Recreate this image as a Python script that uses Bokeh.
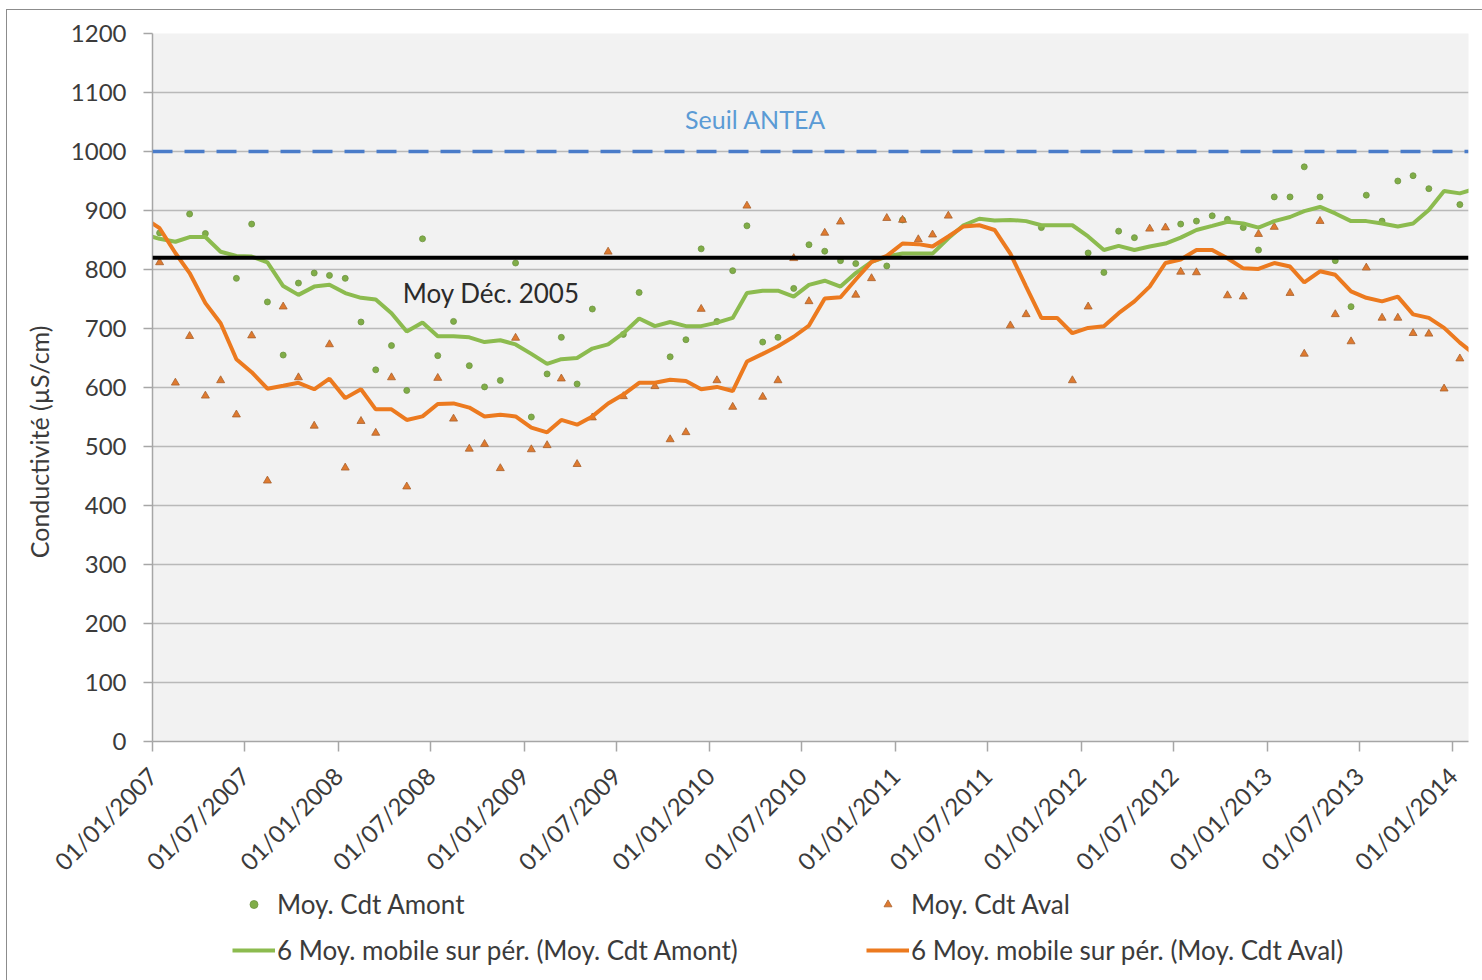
import numpy as np
import pandas as pd
from math import pi
from bokeh.plotting import figure
from bokeh.layouts import column
from bokeh.models import (ColumnDataSource, FixedTicker, DatetimeTickFormatter, Span,
                          Label, Legend, LegendItem, Range1d)
from bokeh.embed import file_html
from bokeh.resources import INLINE

# ---------------- data ----------------
# monthly points (mid-month), Jan 2007 .. Jan 2014
dot_months = pd.date_range("2007-01-01", "2014-01-01", freq="MS") + pd.Timedelta(days=14)
# moving-average lines, Dec 2006 .. Feb 2014 (clipped by the axis)
line_months = pd.date_range("2006-12-01", "2014-02-01", freq="MS") + pd.Timedelta(days=14)

amont = [862, None, 894, 861, None, 785, 877, 745, 655, 777, 794, 790,
         785, 711, 630, 671, 595, 852, 654, 712, 637, 601, 612, 811,
         550, 623, 685, 606, 733, None, 690, 761, None, 652, 681, 835,
         712, 798, 874, 677, 685, 768, 842, 831, 815, 810, None, 806,
         884, None, None, None, None, None, None, None, None, 871, None, None,
         828, 795, 865, 854, None, None, 877, 882, 891, 885, 871, 833,
         923, 923, 974, 923, 815, 737, 926, 882, 950, 959, 937, None,
         910]

aval = [812, 608, 687, 586, 612, 554, 688, 442, 737, 617, 535, 673,
        464, 543, 523, 617, 432, None, 616, 547, 496, 504, 463, 684,
        495, 502, 615, 470, 549, 830, 585, None, 602, 512, 524, 733,
        612, 567, 908, 584, 612, 819, 746, 862, 881, 757, 785, 887,
        884, 851, 859, 891, None, None, None, 705, 724, None, None, 612,
        737, None, None, None, 869, 871, 796, 795, None, 756, 754, 860,
        872, 760, 657, 882, 724, 678, 803, 718, 718, 692, 691, 598,
        649]

mm_amont = [860, 852, 847, 855, 855, 830, 823, 822, 812, 772, 757, 771, 774,
            760, 752, 749, 726, 695, 710, 687, 687, 685, 677, 680, 673,
            657, 640, 648, 650, 666, 673, 692, 717, 704, 711, 704, 704,
            710, 718, 760, 764, 764, 754, 774, 781, 771, 794, 813, 822,
            827, 827, 827, 853, 875, 886, 883, 884, 882, 875, 875, 875,
            856, 833, 840, 833, 839, 844, 854, 867, 874, 881, 878, 871,
            882, 889, 899, 906, 895, 882, 882, 878, 873, 878, 901, 933,
            929, 937]

mm_aval = [888, 870, 828, 794, 743, 709, 648, 626, 598, 603, 608, 597, 615,
           582, 597, 563, 563, 545, 551, 572, 573, 566, 551, 554, 551,
           532, 524, 545, 537, 551, 573, 588, 608, 608, 613, 611, 597,
           601, 594, 644, 657, 670, 686, 705, 751, 753, 783, 813, 823,
           844, 843, 839, 856, 873, 875, 867, 827, 771, 718, 718, 692,
           701, 704, 726, 746, 771, 811, 817, 833, 833, 819, 802, 801,
           811, 805, 778, 797, 791, 763, 752, 746, 754, 724, 718, 701,
           676, 655]

tick_dates = ["2007-01-01", "2007-07-01", "2008-01-01", "2008-07-01", "2009-01-01",
              "2009-07-01", "2010-01-01", "2010-07-01", "2011-01-01", "2011-07-01",
              "2012-01-01", "2012-07-01", "2013-01-01", "2013-07-01", "2014-01-01"]
y_ticks = [0, 100, 200, 300, 400, 500, 600, 700, 800, 900, 1000, 1100, 1200]

seuil_antea = 1000
moy_dec_2005 = 820

# ---------------- figure ----------------
def ms(d):
    return pd.Timestamp(d).value / 1e6

FONT = "Lato"
TXT = "#3b3b3b"
GREEN = "#8cbb4f"
ORANGE = "#ec7a1f"
DOT_G = dict(marker="circle", size=6, fill_color="#80ad48", line_color="#6f9441", line_width=0.8)
DOT_O = dict(marker="triangle", size=8, fill_color="#df7a2f", line_color="#a8622f", line_width=0.8)

p = figure(width=1475, height=879, x_axis_type="datetime",
           x_range=Range1d(ms("2007-01-01"), ms("2014-02-01")),
           y_range=Range1d(0, 1200),
           output_backend="svg", toolbar_location=None,
           min_border_left=145, min_border_right=14,
           min_border_top=23, min_border_bottom=146)
p.background_fill_color = "#f2f2f2"
p.border_fill_color = "white"
p.outline_line_color = None

p.xgrid.grid_line_color = None
p.ygrid.grid_line_color = "#b9b9b9"
p.ygrid.grid_line_width = 1.5

p.yaxis.ticker = FixedTicker(ticks=y_ticks)
p.xaxis.ticker = FixedTicker(ticks=[ms(d) for d in tick_dates])
fmt = "%d/%m/%Y"
p.xaxis.formatter = DatetimeTickFormatter(milliseconds=fmt, seconds=fmt, minsec=fmt,
                                          minutes=fmt, hourmin=fmt, hours=fmt,
                                          days=fmt, months=fmt, years=fmt)
for ax in (p.xaxis, p.yaxis):
    ax.axis_line_color = "#a6a6a6"
    ax.axis_line_width = 1.5
    ax.major_tick_line_color = "#a6a6a6"
    ax.major_tick_line_width = 1.5
    ax.major_tick_in = 0
    ax.minor_tick_line_color = None
    ax.major_label_text_font = FONT
    ax.major_label_text_font_size = "24px"
    ax.major_label_text_color = TXT
p.yaxis.major_tick_out = 9
p.yaxis.major_label_standoff = 17
p.xaxis.major_tick_out = 10
p.xaxis.major_label_standoff = 20
p.xaxis.major_label_orientation = pi / 4

# y-axis title; trailing no-break spaces push the visible text a little
# below the frame centre, as in the reference
p.yaxis.axis_label = "Conductivité (µS/cm)" + "\u00a0" * 17
p.yaxis.axis_label_text_font = FONT
p.yaxis.axis_label_text_font_size = "25px"
p.yaxis.axis_label_text_font_style = "normal"
p.yaxis.axis_label_text_color = TXT
p.yaxis.axis_label_standoff = 14

dots = ColumnDataSource(dict(x=dot_months,
                             amont=np.array(amont, dtype=float),
                             aval=np.array(aval, dtype=float)))
lines = ColumnDataSource(dict(x=line_months,
                              mm_amont=np.array(mm_amont, dtype=float),
                              mm_aval=np.array(mm_aval, dtype=float)))

p.scatter("x", "amont", source=dots, **DOT_G)
p.scatter("x", "aval", source=dots, **DOT_O)
p.line("x", "mm_amont", source=lines, line_color=GREEN, line_width=4)
p.line("x", "mm_aval", source=lines, line_color=ORANGE, line_width=4)

p.add_layout(Span(location=moy_dec_2005, dimension="width",
                  line_color="black", line_width=4))
p.add_layout(Span(location=seuil_antea, dimension="width",
                  line_color="#4a7cc9", line_width=3.5, line_dash="20 12"))

p.add_layout(Label(x=ms("2010-04-01"), y=1055, text="Seuil ANTEA",
                   text_align="center", text_baseline="middle",
                   text_font=FONT, text_font_size="25px", text_color="#5b9bd5"))
p.add_layout(Label(x=ms("2008-10-28"), y=760, text="Moy Déc. 2005",
                   text_align="center", text_baseline="middle",
                   text_font=FONT, text_font_size="26px", text_color="#2b2b2b"))

# ---------------- legend strip ----------------
lf = figure(width=1475, height=91, x_range=Range1d(0, 1), y_range=Range1d(0, 1),
            output_backend="svg", toolbar_location=None,
            x_axis_location=None, y_axis_location=None, min_border=0)
lf.outline_line_color = None
lf.grid.grid_line_color = None
lf.background_fill_color = "white"
lf.border_fill_color = "white"
# legend proxies: kept outside the visible range of the strip
proxy = ColumnDataSource(dict(x=[-3, -2], y=[-3, -2]))
g_am = lf.scatter("x", "y", source=proxy, **DOT_G)
g_av = lf.scatter("x", "y", source=proxy, **DOT_O)
g_lam = lf.line("x", "y", source=proxy, line_color=GREEN, line_width=4)
g_lav = lf.line("x", "y", source=proxy, line_color=ORANGE, line_width=4)

def make_legend(items, loc):
    return Legend(items=items, location=loc, orientation="vertical",
                  glyph_width=43, glyph_height=20, label_height=20,
                  label_standoff=2, spacing=14, padding=0, margin=0,
                  border_line_color=None, background_fill_alpha=0,
                  label_text_font=FONT, label_text_font_size="26px",
                  label_text_color=TXT)

lf.add_layout(make_legend([LegendItem(label="Moy. Cdt Amont", renderers=[g_am]),
                           LegendItem(label="6 Moy. mobile sur pér. (Moy. Cdt Amont)",
                                      renderers=[g_lam])], (80, 14)))
lf.add_layout(make_legend([LegendItem(label="Moy. Cdt Aval", renderers=[g_av]),
                           LegendItem(label="6 Moy. mobile sur pér. (Moy. Cdt Aval)",
                                      renderers=[g_lav])], (714, 14)))

layout = column(p, lf, spacing=0,
                styles={"margin-left": "7px", "margin-top": "10px",
                        "outline": "1px solid #8c8c8c"})

open("out.html", "w").write(file_html(layout, INLINE))
